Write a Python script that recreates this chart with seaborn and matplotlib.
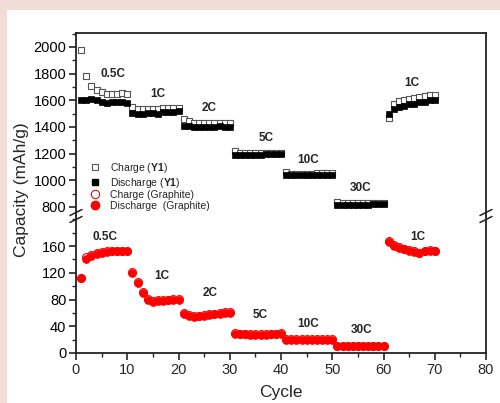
import pandas as pd
import seaborn as sns
import matplotlib.pyplot as plt
from matplotlib.patches import Rectangle
from matplotlib.lines import Line2D
from matplotlib.ticker import MultipleLocator

# cycle numbers
cycles = list(range(1, 71))

# Y1 electrode (top panel)
charge_y1 = [1975, 1780, 1710, 1680, 1660, 1650, 1650, 1645, 1655, 1645,
             1547, 1537, 1535, 1535, 1535, 1537, 1540, 1545, 1545, 1545,
             1462, 1442, 1432, 1432, 1428, 1432, 1432, 1428, 1428, 1428,
             1222, 1205, 1205, 1205, 1205, 1205, 1207, 1208, 1208, 1208,
             1062, 1050, 1050, 1050, 1050, 1050, 1052, 1052, 1052, 1052,
             837, 828, 828, 828, 828, 828, 830, 832, 832, 832,
             1465, 1575, 1595, 1600, 1610, 1620, 1625, 1630, 1640, 1640]
discharge_y1 = [1600, 1605, 1610, 1600, 1590, 1580, 1585, 1590, 1590, 1580,
                1505, 1500, 1500, 1505, 1505, 1500, 1510, 1515, 1515, 1520,
                1410, 1405, 1400, 1400, 1400, 1400, 1400, 1405, 1400, 1400,
                1190, 1190, 1190, 1190, 1190, 1190, 1195, 1195, 1195, 1195,
                1040, 1038, 1038, 1038, 1038, 1038, 1042, 1042, 1042, 1042,
                818, 815, 815, 815, 815, 815, 818, 820, 820, 820,
                1500, 1535, 1550, 1560, 1570, 1575, 1585, 1590, 1600, 1605]

# Graphite electrode (bottom panel)
discharge_gr = [112, 141, 145, 148, 150, 151, 152, 152, 152, 152,
                120, 105, 90, 80, 77, 78, 78, 79, 80, 80,
                59, 56, 54, 55, 56, 57, 58, 59, 60, 60,
                29, 28, 28, 27, 27, 27, 27, 28, 28, 29,
                20, 20, 20, 20, 20, 20, 20, 20, 20, 20,
                10, 10, 10, 10, 10, 10, 10, 10, 10, 10,
                166, 160, 157, 155, 153, 151, 149, 152, 153, 152]
charge_gr = [112, 144, 147, 149, 151, 152, 153, 153, 153, 153,
             121, 106, 91, 81, 78, 79, 79, 80, 81, 81,
             60, 57, 55, 56, 57, 58, 59, 60, 61, 61,
             30, 29, 29, 28, 28, 28, 28, 29, 29, 30,
             21, 21, 21, 21, 21, 21, 21, 21, 21, 21,
             11, 11, 11, 11, 11, 11, 11, 11, 11, 11,
             167, 161, 158, 156, 154, 152, 150, 153, 154, 153]

rate_labels = ['0.5C', '1C', '2C', '5C', '10C', '30C', '1C']
top_label_x = [7.2, 16.0, 26.0, 37.2, 45.3, 55.5, 65.5]
top_label_y = [1800, 1645, 1540, 1315, 1150, 940, 1730]
bot_label_x = [5.7, 16.7, 26.1, 35.9, 45.3, 55.8, 66.7]
bot_label_y = [174, 115, 90, 57, 43, 34, 174]

df = pd.DataFrame({'cycle': cycles, 'charge_y1': charge_y1, 'discharge_y1': discharge_y1,
                   'charge_gr': charge_gr, 'discharge_gr': discharge_gr})

sns.set_style('ticks')
plt.rcParams['font.family'] = ['Liberation Sans', 'DejaVu Sans']
plt.rcParams['mathtext.fontset'] = 'custom'
plt.rcParams['mathtext.bf'] = 'Liberation Sans:bold'
plt.rcParams['mathtext.rm'] = 'Liberation Sans'

W, H = 500, 403
fig = plt.figure(figsize=(5, 4.03), dpi=100)
fig.patch.set_facecolor('#f1dcd7')
fig.add_artist(Rectangle((7 / W, 0), 1, 1 - 10 / H, transform=fig.transFigure,
                         facecolor='white', edgecolor='none', zorder=-5))

left, right = 76 / W, 486 / W
brk = 1 - 216 / H
ax_top = fig.add_axes([left, brk, right - left, (1 - 33 / H) - brk])
ax_bot = fig.add_axes([left, 1 - 353 / H, right - left, brk - (1 - 353 / H)], sharex=ax_top)

# top panel
sns.scatterplot(data=df, x='cycle', y='charge_y1', ax=ax_top, marker='s', s=20,
                facecolor='white', edgecolor='#555555', linewidth=0.8, zorder=2)
sns.scatterplot(data=df, x='cycle', y='discharge_y1', ax=ax_top, marker='s', s=20,
                color='black', edgecolor='black', linewidth=0.5, zorder=3)
# bottom panel
sns.scatterplot(data=df, x='cycle', y='charge_gr', ax=ax_bot, marker='o', s=32,
                facecolor='white', edgecolor='#ff0000', linewidth=0.8, zorder=2)
sns.scatterplot(data=df, x='cycle', y='discharge_gr', ax=ax_bot, marker='o', s=32,
                color='#ff0000', edgecolor='#ff0000', linewidth=0.5, zorder=3)

ax_top.set_xlim(0, 80)
ax_top.set_ylim(732, 2105)
ax_bot.set_ylim(0, 205)

for ax in (ax_top, ax_bot):
    ax.set_xlabel('')
    ax.set_ylabel('')
    for sp in ax.spines.values():
        sp.set_linewidth(1.3)
        sp.set_color('#222222')
    ax.tick_params(axis='y', which='major', direction='out', length=5, width=1.2,
                   labelsize=10.5, pad=2, colors='#222222', labelcolor='black')
    ax.tick_params(axis='y', which='minor', direction='out', length=3, width=1.0)
ax_top.spines['bottom'].set_visible(False)
ax_bot.spines['top'].set_visible(False)
ax_top.tick_params(axis='x', which='both', bottom=False, labelbottom=False)

ax_top.yaxis.set_minor_locator(MultipleLocator(100))
ax_top.set_yticks([800, 1000, 1200, 1400, 1600, 1800, 2000])
ax_bot.set_yticks([0, 40, 80, 120, 160])
ax_bot.yaxis.set_minor_locator(MultipleLocator(20))
ax_bot.xaxis.set_major_locator(MultipleLocator(10))
ax_bot.xaxis.set_minor_locator(MultipleLocator(5))
ax_bot.tick_params(axis='x', which='major', direction='out', length=5, width=1.2,
                   labelsize=10.5, pad=2)
ax_bot.tick_params(axis='x', which='minor', direction='out', length=3, width=1.0)

for t, x, y in zip(rate_labels, top_label_x, top_label_y):
    ax_top.text(x, y, t, ha='center', va='center', fontsize=8.5, fontweight='bold')
for t, x, y in zip(rate_labels, bot_label_x, bot_label_y):
    ax_bot.text(x, y, t, ha='center', va='center', fontsize=8.5, fontweight='bold')

# axis break marks
yb = 216
for xb in (76, 486):
    for dy in (-3.5, 3.5):
        fig.add_artist(Line2D([(xb - 6) / W, (xb + 6) / W],
                              [1 - (yb + dy + 3) / H, 1 - (yb + dy - 3) / H],
                              transform=fig.transFigure, color='#222222', lw=1.1))

fig.text(22 / W, 1 - 190 / H, 'Capacity (mAh/g)', rotation=90, ha='center', va='center',
         fontsize=12.5)
fig.text(281 / W, 1 - 392 / H, 'Cycle', ha='center', va='center', fontsize=12.5)

handles = [
    Line2D([], [], ls='none', marker='s', ms=5, mfc='white', mec='#555555', mew=0.8),
    Line2D([], [], ls='none', marker='s', ms=5, mfc='black', mec='black'),
    Line2D([], [], ls='none', marker='o', ms=6, mfc='white', mec='#ff0000', mew=0.8),
    Line2D([], [], ls='none', marker='o', ms=6, mfc='#ff0000', mec='#ff0000'),
]
labels = [r'Charge ($\mathbf{Y1}$)', r'Discharge ($\mathbf{Y1}$)',
          'Charge (Graphite)', 'Discharge  (Graphite)']
leg = fig.legend(handles, labels, loc='upper left', bbox_to_anchor=(90 / W, 1 - 161 / H),
                 frameon=False, fontsize=7.5, handlelength=1.0, handletextpad=0.9,
                 labelspacing=0.05, borderpad=0, borderaxespad=0)
leg.set_zorder(10)

fig.savefig('out.png', dpi=100, facecolor=fig.get_facecolor())
